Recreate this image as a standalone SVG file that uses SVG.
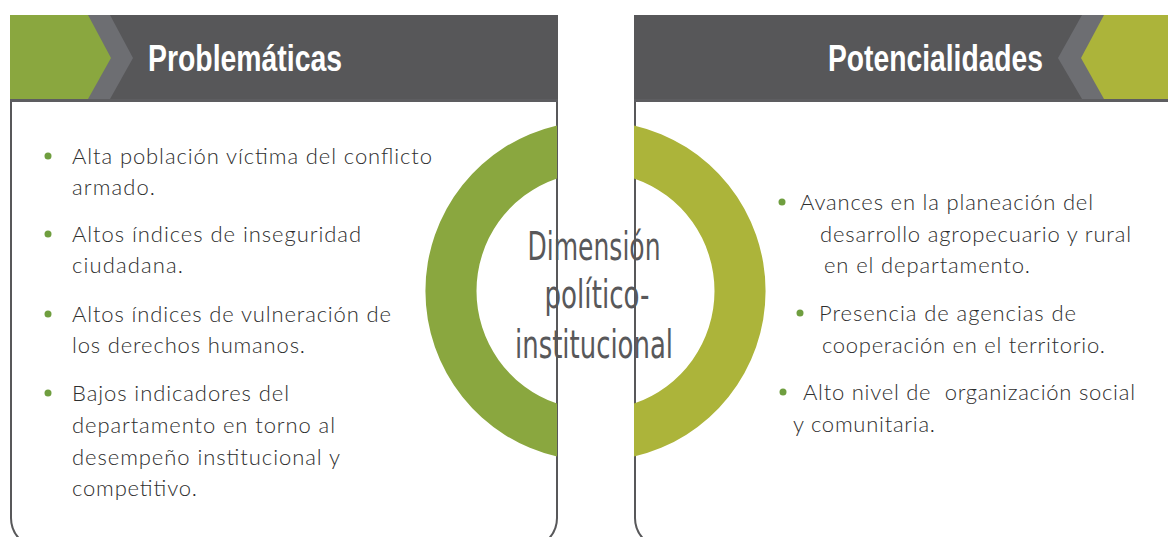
<svg xmlns="http://www.w3.org/2000/svg" width="1168" height="537" viewBox="0 0 1168 537">
<style>
.hdr{fill:#575759}
.chev{fill:#6d6e72}
.box{fill:#ffffff;stroke:#58585a;stroke-width:2}
.title{font-family:"Liberation Sans Narrow","Liberation Sans",Arial,sans-serif;font-weight:bold;font-size:36px;fill:#ffffff}
.body{font-family:Lato,"Noto Sans",sans-serif;font-weight:300;font-size:22px;fill:#2e2e2e}
.dot{fill:#6f9e3f}
.center{font-family:"Liberation Sans Narrow","DejaVu Sans Condensed",sans-serif;font-size:39px;fill:#58585a;text-anchor:middle}
</style>
<rect width="1168" height="537" fill="#ffffff"/>
<g id="problematicas">
  <rect class="box" x="11" y="40" width="546" height="508" rx="30" ry="30"/>
  <rect class="hdr" x="10" y="15" width="548" height="87"/>
  <rect x="10" y="99" width="548" height="3" fill="#5d5d60"/>
  <polygon class="chev" points="10,15 110,15 133,58 110,99 10,99"/>
  <polygon fill="#8aa73f" points="10,15 88,15 111,58 88,99 10,99"/>
  <text class="title" x="148" y="71" textLength="194" lengthAdjust="spacingAndGlyphs">Problemáticas</text>
  <circle class="dot" cx="48" cy="156" r="3.5"/>
  <text class="body" x="72" y="164" textLength="360">Alta población víctima del conflicto</text>
  <text class="body" x="72" y="195" textLength="83">armado.</text>
  <circle class="dot" cx="48" cy="234" r="3.5"/>
  <text class="body" x="72" y="242" textLength="289">Altos índices de inseguridad</text>
  <text class="body" x="72" y="273" textLength="111">ciudadana.</text>
  <circle class="dot" cx="48" cy="314" r="3.5"/>
  <text class="body" x="72" y="322" textLength="319">Altos índices de vulneración de</text>
  <text class="body" x="72" y="353" textLength="233">los derechos humanos.</text>
  <circle class="dot" cx="48" cy="393" r="3.5"/>
  <text class="body" x="72" y="401" textLength="217">Bajos indicadores del</text>
  <text class="body" x="72" y="433" textLength="263">departamento en torno al</text>
  <text class="body" x="72" y="465" textLength="268">desempeño institucional y</text>
  <text class="body" x="72" y="496" textLength="125">competitivo.</text>
</g>
<g id="potencialidades">
  <rect class="box" x="635" y="40" width="600" height="508" rx="30" ry="30"/>
  <rect class="hdr" x="634" y="15" width="534" height="87"/>
  <rect x="634" y="99" width="534" height="3" fill="#5d5d60"/>
  <polygon class="chev" points="1168,15 1082,15 1058,58 1082,99 1168,99"/>
  <polygon fill="#acb43a" points="1168,15 1104,15 1081,58 1104,99 1168,99"/>
  <text class="title" x="828" y="71" textLength="215" lengthAdjust="spacingAndGlyphs">Potencialidades</text>
  <circle class="dot" cx="782" cy="202" r="3.5"/>
  <text class="body" x="800" y="210" textLength="293">Avances en la planeación del</text>
  <text class="body" x="820" y="242" textLength="311">desarrollo agropecuario y rural</text>
  <text class="body" x="824" y="273" textLength="206">en el departamento.</text>
  <circle class="dot" cx="800" cy="313" r="3.5"/>
  <text class="body" x="819" y="321" textLength="257">Presencia de agencias de</text>
  <text class="body" x="822" y="353" textLength="283">cooperación en el territorio.</text>
  <circle class="dot" cx="783" cy="392" r="3.5"/>
  <text class="body" x="803" y="400" textLength="332" xml:space="preserve">Alto nivel de  organización social</text>
  <text class="body" x="793" y="432" textLength="142">y comunitaria.</text>
</g>
<g id="dimension">
  <path fill="#8aa73f" d="M557,125.4 A170,170 0 0,0 557,456.6 L557,403.6 A119,119 0 0,1 557,178.4 Z"/>
  <path fill="#acb43a" d="M634,125.4 A170,170 0 0,1 634,456.6 L634,403.6 A119,119 0 0,0 634,178.4 Z"/>
  <text class="center" x="594" y="260" textLength="133" lengthAdjust="spacingAndGlyphs">Dimensión</text>
  <text class="center" x="597" y="308" textLength="105" lengthAdjust="spacingAndGlyphs">político-</text>
  <text class="center" x="594" y="358" textLength="158" lengthAdjust="spacingAndGlyphs">institucional</text>
</g>
</svg>
